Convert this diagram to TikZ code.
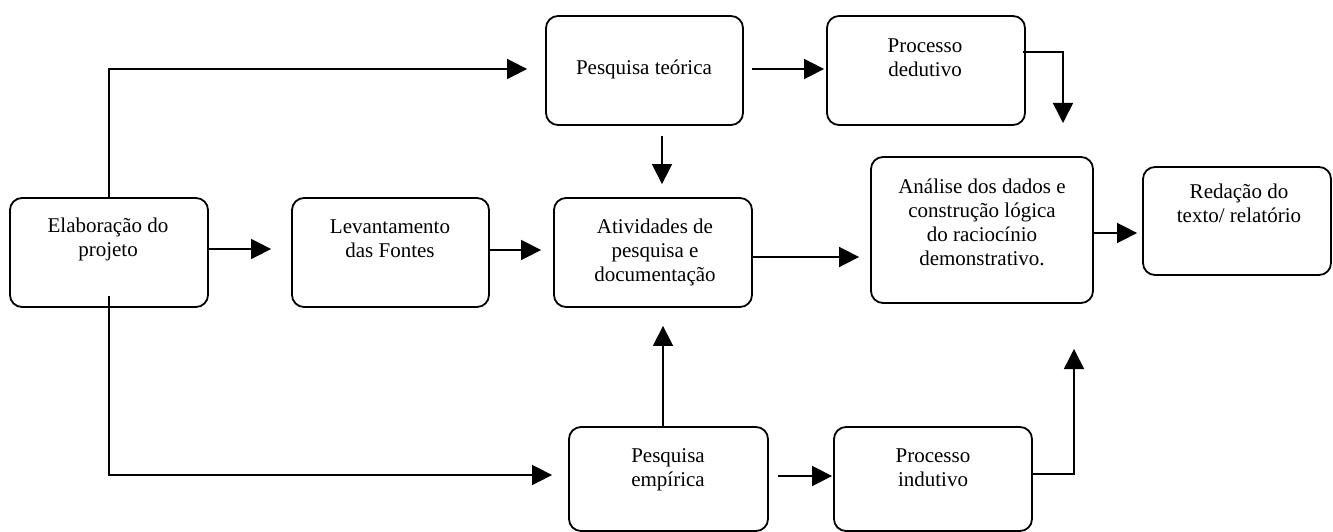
\documentclass[tikz,border=0pt]{standalone}
\usepackage{fontspec}
\setmainfont{Liberation Serif}
\usetikzlibrary{arrows.meta}
\newcommand{\fl}{\rule{0pt}{16pt}}
\begin{document}
\begin{tikzpicture}[x=1pt,y=-1pt,
  box/.style={draw,line width=1.8pt,rounded corners=12pt,inner sep=0pt},
  txt/.style={align=center,inner sep=0pt,anchor=north,font=\fontsize{21pt}{24pt}\selectfont},
  arr/.style={line width=1.6pt,-{Triangle[length=20pt,width=20pt]}},
  ln/.style={line width=1.6pt}]
\useasboundingbox (0,0) rectangle (1333,532);
% boxes
\node[box,minimum width=198pt,minimum height=109pt] (elab) at (109,252.5) {};
\node[box,minimum width=197pt,minimum height=109pt] (lev) at (390.5,252.5) {};
\node[box,minimum width=198pt,minimum height=109pt] (ativ) at (653,252.5) {};
\node[box,minimum width=197pt,minimum height=109pt] (teor) at (644.5,70.5) {};
\node[box,minimum width=198pt,minimum height=109pt] (ded) at (926,70.5) {};
\node[box,minimum width=222pt,minimum height=146pt] (anal) at (982,230) {};
\node[box,minimum width=188pt,minimum height=108pt] (red) at (1237,221) {};
\node[box,minimum width=199pt,minimum height=104pt] (emp) at (668.5,479) {};
\node[box,minimum width=198pt,minimum height=104pt] (ind) at (933,479) {};
% texts
\node[txt] (elabT) at (108,216) {\fl Elaboração do\\projeto};
\node[txt] (levT) at (390,217) {\fl Levantamento\\das Fontes};
\node[txt] (ativT) at (655,217) {\fl Atividades de\\pesquisa e\\documentação};
\node[txt] (teorT) at (644,58) {\fl Pesquisa teórica};
\node[txt] (dedT) at (925,36) {\fl Processo\\dedutivo};
\node[txt] (analT) at (982,177) {\fl Análise dos dados e\\construção lógica\\do raciocínio\\demonstrativo.};
\node[txt] (redT) at (1239,182) {\fl Redação do\\texto/ relatório};
\node[txt] (empT) at (668,446) {\fl Pesquisa\\empírica};
\node[txt] (indT) at (933,446) {\fl Processo\\indutivo};
% free ends
\coordinate (dedEnd) at (1063,123);
\coordinate (indEnd) at (1074,349);
% connectors
\draw[arr] (elab.north) |- ([xshift=-18pt,yshift=1.5pt]teor.west);
\draw[arr] ([yshift=12pt]elab.south) |- ([xshift=-16pt,yshift=4pt]emp.west);
\draw[arr] ([yshift=3.5pt]elab.east) -- ([yshift=3.5pt,xshift=-20pt]lev.west);
\draw[arr] ([yshift=2.5pt]lev.east) -- ([yshift=2.5pt,xshift=-12pt]lev.east -| ativ.west);
\draw[arr] ([xshift=8pt,yshift=1.5pt]teor.east) -- ([xshift=-2pt,yshift=1.5pt]ded.west);
\draw[arr] ([xshift=17.5pt,yshift=-10pt]teor.south) -- ([xshift=9pt,yshift=13pt]ativ.north);
\draw[arr] ([xshift=-3pt,yshift=18.5pt]ded.east) -| (dedEnd);
\draw[arr] ([yshift=-4.5pt]ativ.east) -- ([xshift=-11pt,yshift=-27pt]anal.west);
\draw[arr] ([yshift=-3pt]anal.east) -- ([xshift=-5pt,yshift=-12pt]red.west);
\draw[arr] ([xshift=-5.5pt]emp.north) -- ([xshift=10pt,yshift=-18pt]ativ.south);
\draw[arr] ([xshift=9pt,yshift=3pt]emp.east) -- ([xshift=-1pt,yshift=3pt]ind.west);
\draw[arr] ([yshift=5pt]ind.east) -| (indEnd);
\end{tikzpicture}
\end{document}
